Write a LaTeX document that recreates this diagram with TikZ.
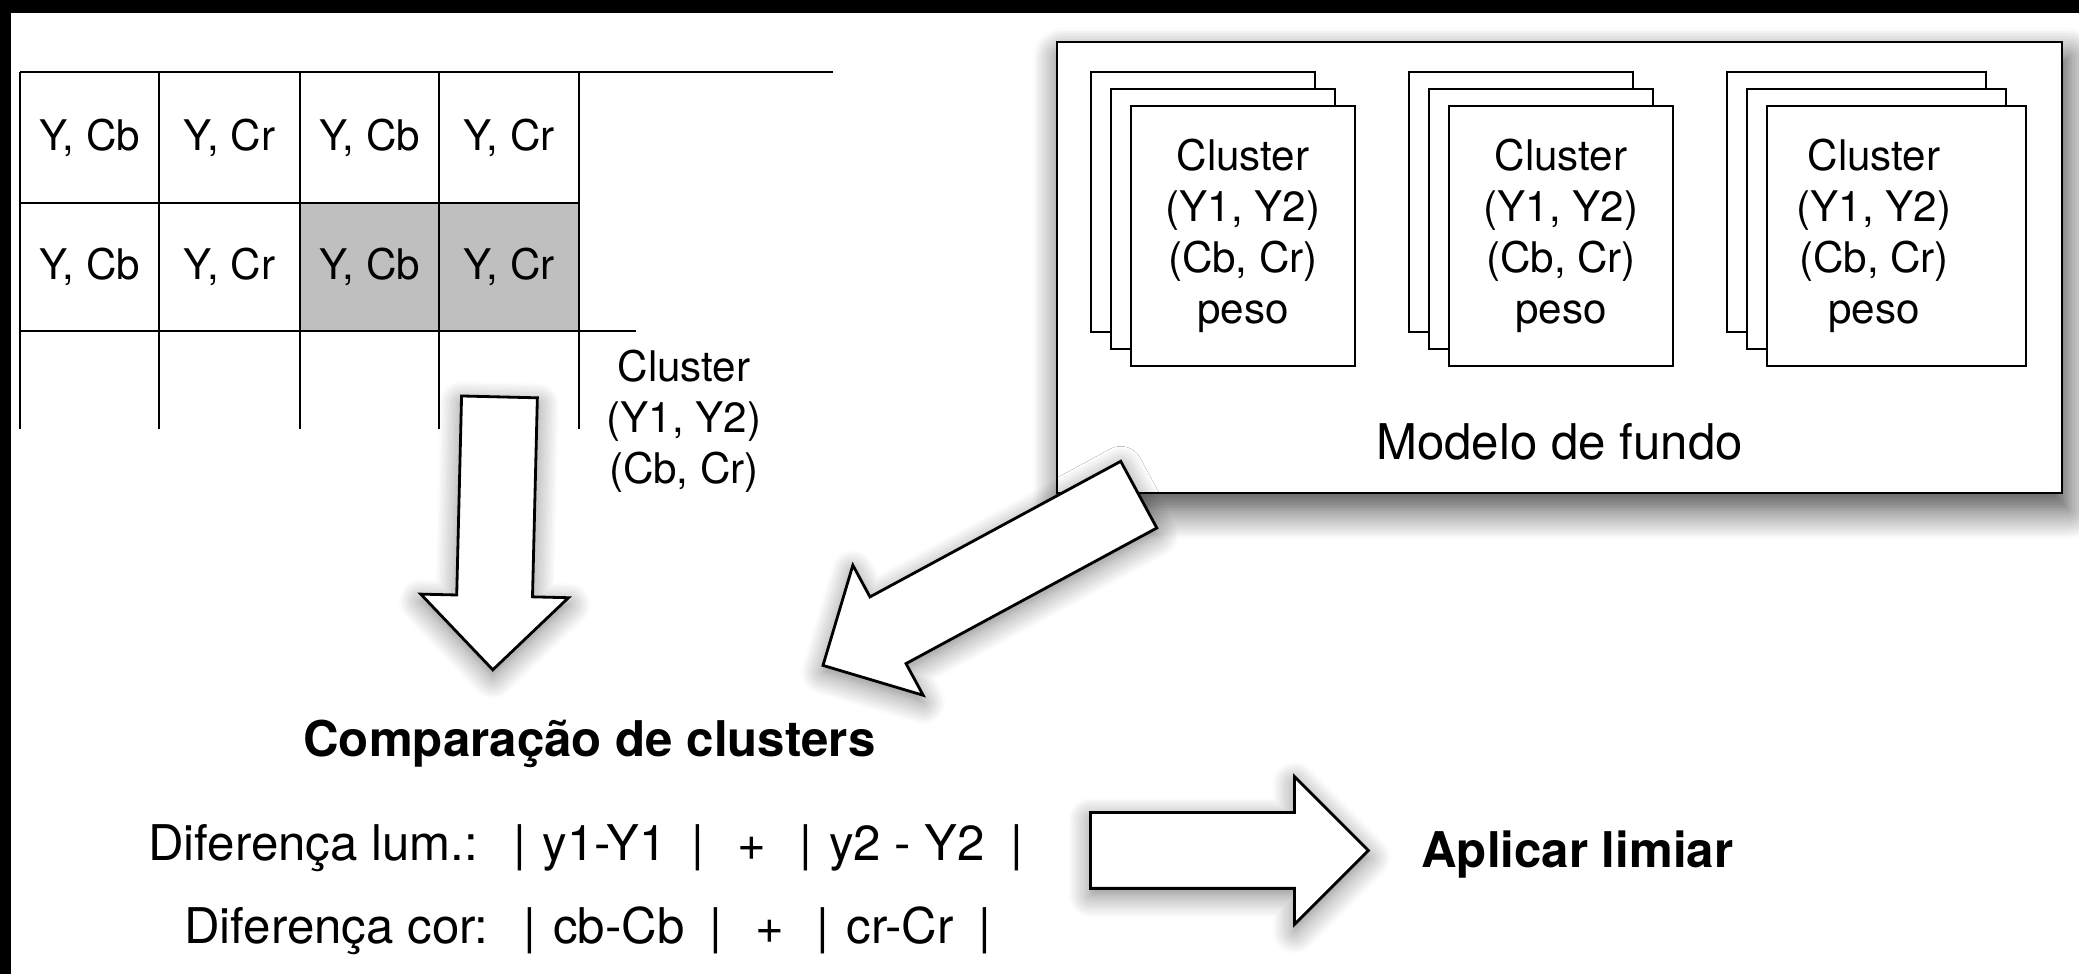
\documentclass[tikz,border=0pt]{standalone}
\usepackage{fontspec}
\setmainfont{TeX Gyre Heros}
\usetikzlibrary{positioning, calc, shapes.arrows, shadows.blur}

\begin{document}
\begin{tikzpicture}
    [thick,
      cel/.style={font=\fontsize{12}{14.5}\selectfont, inner sep=0pt},
      carta/.style={draw, fill=white, minimum height=2.6cm, inner sep=0pt},
      seta/.style={single arrow, draw, fill=white, inner xsep=0pt,
        inner ysep=0.365cm, single arrow head extend=0.36cm,
        blur shadow={shadow xshift=0pt, shadow yshift=-0.07cm,
          shadow blur radius=0.22cm, shadow blur steps=10, shadow opacity=50}},
      titulo/.style={font=\fontsize{14}{17}\selectfont\bfseries, inner sep=0pt,
        anchor=base west},
      formula/.style={font=\fontsize{14}{17}\selectfont, inner sep=0pt,
        anchor=base west}]

    \useasboundingbox (0,0) rectangle (20.79,-9.74);

    % moldura preta
    \fill[black] (0,0) rectangle (20.79,-0.13);
    \fill[black] (0,0) rectangle (0.11,-9.74);

    % grade de pixels
    \fill[black!25] (3.00,-2.03) rectangle (5.79,-3.31);
    \draw (0.20,-0.72) -- (8.33,-0.72);
    \draw (0.20,-2.03) -- (5.79,-2.03);
    \draw (0.20,-3.31) -- (6.36,-3.31);
    \foreach \x in {0.20,1.59,3.00,4.39,5.79}
      \draw (\x,-0.72) -- (\x,-4.29);

    \foreach \lin/\y in {1/-1.375, 2/-2.67}
      \foreach \col/\x/\txt in {1/0.895/{Y, Cb}, 2/2.295/{Y, Cr},
                                3/3.695/{Y, Cb}, 4/5.09/{Y, Cr}}
        \node[cel] (pix-\lin-\col) at (\x,\y) {\txt};

    \node[cel, align=center] (rotulo) at (6.84,-4.21)
      {Cluster\\(Y1, Y2)\\(Cb, Cr)};

    % modelo de fundo
    \node[draw, fill=white, minimum width=10.05cm, minimum height=4.51cm,
      blur shadow={shadow xshift=0.06cm, shadow yshift=-0.16cm,
        shadow blur radius=0.3cm, shadow blur steps=12, shadow opacity=75}]
      (modelo) at (15.595,-2.675) {};
    \node[font=\fontsize{14}{17}\selectfont, inner sep=0pt, anchor=base]
      (modelo-txt) at (15.595,-4.60) {Modelo de fundo};

    % pilhas de clusters: centro, largura, centro do texto
    \foreach \g/\x/\w/\tx in {1/12.43/2.24/12.43, 2/15.61/2.24/15.61,
                              3/18.965/2.59/18.74} {
      \node[carta, minimum width=\w cm] (c\g-3) at (\x-0.40,-2.02) {};
      \node[carta, minimum width=\w cm] (c\g-2) at (\x-0.20,-2.19) {};
      \node[carta, minimum width=\w cm] (c\g-1) at (\x,-2.36) {};
      \node[cel, align=center] (t\g) at (\tx,-2.36)
        {Cluster\\(Y1, Y2)\\(Cb, Cr)\\peso};
    }

    % setas
    \node[seta, minimum height=2.73cm, rotate=-91.4, anchor=tail]
      (seta-grade) at (4.995,-3.955) {};
    \node[seta, minimum height=3.59cm, rotate=208.4, anchor=tail]
      (seta-modelo) at (11.40,-4.94) {};
    \node[seta, minimum height=2.78cm, anchor=tail]
      (seta-limiar) at (10.89,-8.505) {};

    % comparacao
    \node[titulo] (comparacao) at (3.02,-7.57) {Comparação de clusters};
    \node[formula] (dif-lum) at (1.47,-8.61)
      {Diferença lum.:\hspace{0.35cm}|\hspace{0.17cm}y1-Y1\hspace{0.25cm}|%
       \hspace{0.33cm}+\hspace{0.33cm}|\hspace{0.17cm}y2 - Y2\hspace{0.25cm}|};
    \node[formula] (dif-cor) at (1.83,-9.44)
      {Diferença cor:\hspace{0.35cm}|\hspace{0.17cm}cb-Cb\hspace{0.25cm}|%
       \hspace{0.33cm}+\hspace{0.33cm}|\hspace{0.17cm}cr-Cr\hspace{0.25cm}|};

    \node[titulo] (limiar) at (14.20,-8.68) {Aplicar limiar};
  \end{tikzpicture}
\end{document}
